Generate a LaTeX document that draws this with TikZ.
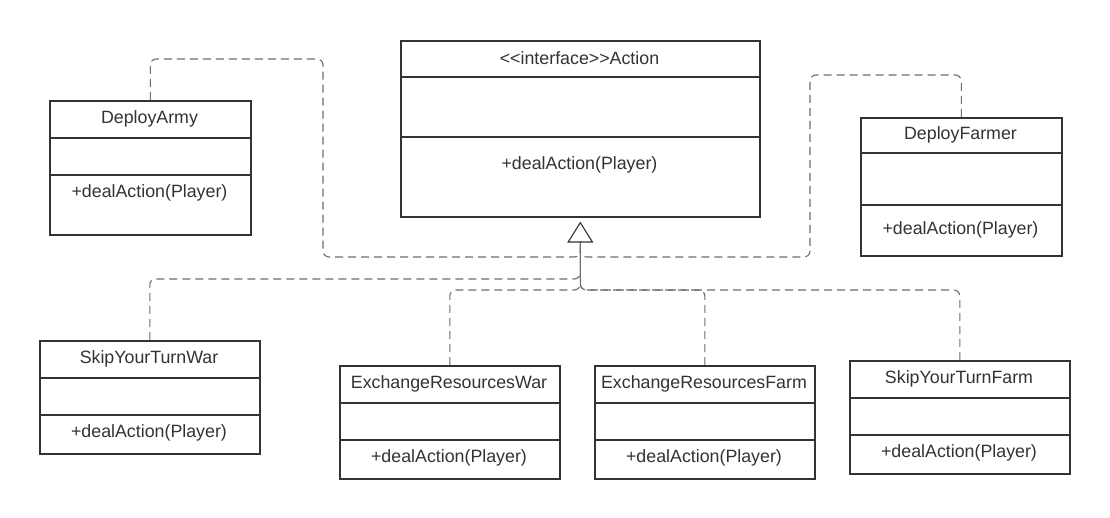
\documentclass[tikz,border=0pt]{standalone}
\usepackage{fontspec}
\setmainfont{Liberation Sans}[Ligatures=TeXOff]
\usetikzlibrary{arrows.meta, positioning, calc}
\definecolor{boxline}{HTML}{333333}
\definecolor{linkline}{HTML}{6E6E6E}

% class box: name, left, top, right, bottom, divider 1, divider 2, operation y, title
\newcommand{\umlclass}[9]{%
  \node[classbox, anchor=north west, minimum width={(#4-#2)*1pt}, minimum height={(#5-#3)*1pt}] (#1) at (#2,#3) {};
  \draw[classline] (#1.west |- 0,#6) -- (#1.east |- 0,#6);
  \draw[classline] (#1.west |- 0,#7) -- (#1.east |- 0,#7);
  \node[classtext] (#1-name) at ({(#2+#4)/2},{(#3+#6)/2}) {#9};
  \node[classtext] (#1-op) at ({(#2+#4)/2},#8) {+dealAction(Player)};
}

\begin{document}
\begin{tikzpicture}[
        x=1pt, y=-1pt,
        font=\fontsize{17.8}{21}\selectfont,
        classbox/.style={draw=boxline, line width=1.6pt, fill=white, inner sep=0pt},
        classline/.style={draw=boxline, line width=1.6pt},
        classtext/.style={text=boxline, inner sep=0pt},
        realization/.style={draw=linkline, line width=1.1pt, dash pattern=on 8pt off 5pt, rounded corners=6pt},
        inherit/.style={draw=boxline, line width=1.1pt, -{Triangle[open, length=21pt, width=26pt]}, shorten >=4pt},
    ]

    \fill[white] (0,0) rectangle (1110,518);
    \useasboundingbox (0,0) rectangle (1110,518);

    % Classes
    \umlclass{action}{400}{40}{759}{216}{77}{137}{165}{<<interface>>Action}
    \umlclass{army}{49}{100}{250}{234}{138}{175}{193}{DeployArmy}
    \umlclass{farmer}{860}{117}{1061}{255}{153}{205}{230}{DeployFarmer}
    \umlclass{skipwar}{39}{340}{259}{453}{378}{415}{433}{SkipYourTurnWar}
    \umlclass{exwar}{339}{365}{559}{478}{403}{440}{458}{ExchangeResourcesWar}
    \umlclass{exfarm}{594}{365}{814}{478}{403}{440}{458}{ExchangeResourcesFarm}
    \umlclass{skipfarm}{849}{360}{1069}{473}{398}{435}{453}{SkipYourTurnFarm}

    % Edges
    \coordinate (base) at ([yshift=-24pt]action.south);
    \draw[realization] (army.north) |- (323,59) |- (base |- 0,257) -- (base);
    \draw[realization] (farmer.north) |- (810,75) |- (base |- 0,257) -- (base);
    \draw[realization] (skipwar.north) |- (base |- 0,279) -- (base);
    \draw[realization] (exwar.north) |- (base |- 0,290) -- (base);
    \draw[realization] (exfarm.north) |- (base |- 0,290) -- (base);
    \draw[realization] (skipfarm.north) |- (base |- 0,290) -- (base);
    \draw[inherit] (base) -- (action.south);

\end{tikzpicture}
\end{document}
